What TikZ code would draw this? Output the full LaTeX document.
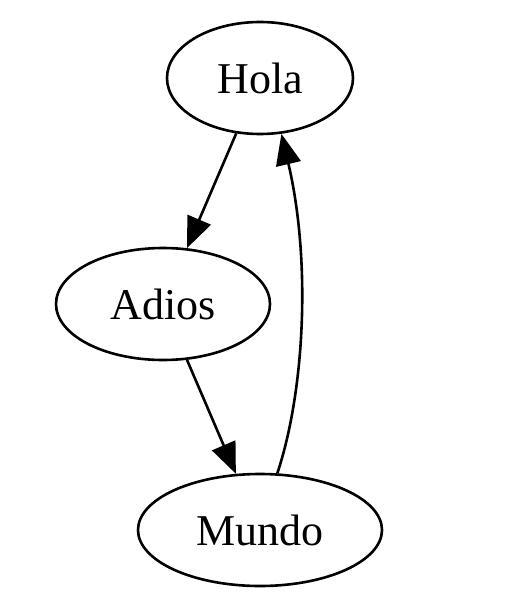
\documentclass[tikz,border=0pt]{standalone}
\usepackage{fontspec}
\setmainfont{Liberation Serif}
\usetikzlibrary{shapes.geometric,arrows.meta}
\begin{document}
\begin{tikzpicture}[x=1pt,y=-1pt,
  gnode/.style={ellipse,draw,line width=2.6pt,inner sep=0pt,font=\fontsize{44}{50}\selectfont},
  edge/.style={line width=2.6pt,-{Triangle[length=31pt,width=25pt]}}]
\useasboundingbox (0,0) rectangle (525,596);
\node[gnode,minimum width=186pt,minimum height=112pt] (hola) at (260,78) {Hola};
\node[gnode,minimum width=214pt,minimum height=112pt] (adios) at (163,304) {Adios};
\node[gnode,minimum width=244pt,minimum height=112pt] (mundo) at (260,530) {Mundo};
\draw[edge] (hola) -- (adios);
\draw[edge] (adios) -- (mundo);
\draw[edge] (mundo.73) .. controls (305,390) and (311,260) .. (hola.-69);
\end{tikzpicture}
\end{document}
